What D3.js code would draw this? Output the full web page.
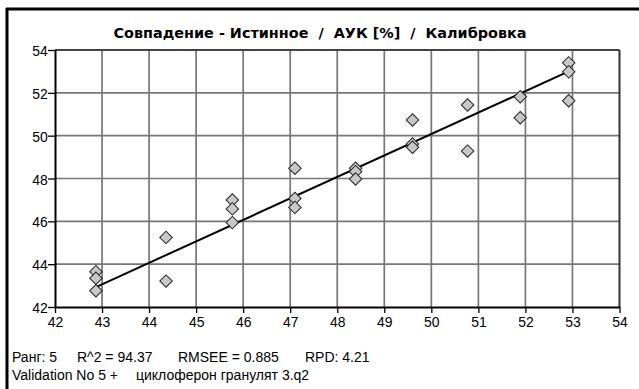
<!DOCTYPE html>
<html><head><meta charset="utf-8">
<script src="https://cdn.jsdelivr.net/npm/d3@7"></script>
<style>body{margin:0;background:#fff}svg{display:block}</style>
</head><body>
<script>
const xTicks = [42,43,44,45,46,47,48,49,50,51,52,53,54];
const yTicks = [42,44,46,48,50,52,54];
const trueVals = [42.87,42.87,42.87,44.36,44.36,45.77,45.77,45.77,47.10,47.10,47.10,48.39,48.39,48.39,49.60,49.60,49.60,50.77,50.77,51.89,51.89,52.92,52.92,52.92];
const predVals = [43.65,43.34,42.76,45.25,43.21,47.00,46.58,45.94,48.48,47.07,46.65,48.48,48.32,47.98,50.73,49.61,49.46,51.43,49.28,51.82,50.84,53.40,52.98,51.63];
const fitX = [42.87,52.92];
const fitY = [42.93,53.00];
const title = "Совпадение - Истинное  /  АУК [%]  /  Калибровка";
const statsLine = ["Ранг: 5","R^2 = 94.37","RMSEE = 0.885","RPD: 4.21"];
const infoLine = ["Validation No 5 +","циклоферон гранулят 3.q2"];

// layout
const statsX = [12,77,178,305];
const infoX = [12,136];

const W=639,H=389;
const svg=d3.select("body").append("svg").attr("width",W).attr("height",H);
const x=d3.scaleLinear().domain([42,54]).range([55,619.5]);
const y=d3.scaleLinear().domain([42,54]).range([307,50]);
const sans="'Liberation Sans', Arial, sans-serif";

// outer border (top and left)
svg.append("line").attr("x1",6).attr("x2",W).attr("y1",9).attr("y2",9).attr("stroke","#000").attr("stroke-width",3);
svg.append("line").attr("x1",7).attr("x2",7).attr("y1",8).attr("y2",H).attr("stroke","#000").attr("stroke-width",3);

svg.append("text").attr("x",320).attr("y",38).attr("text-anchor","middle")
  .attr("font-family","'DejaVu Sans', Verdana, sans-serif").attr("font-weight","bold").attr("font-size",14.4)
  .attr("fill","#000").style("white-space","pre").text(title);

// grid
const g=svg.append("g");
g.selectAll(".vx").data(xTicks.slice(1,-1)).join("line")
  .attr("x1",d=>x(d)).attr("x2",d=>x(d)).attr("y1",y(54)).attr("y2",y(42))
  .attr("stroke","#777").attr("stroke-width",1.7);
g.selectAll(".hy").data(yTicks.slice(1,-1)).join("line")
  .attr("x1",x(42)).attr("x2",x(54)).attr("y1",d=>y(d)).attr("y2",d=>y(d))
  .attr("stroke","#777").attr("stroke-width",1.7);
// frame top/right
svg.append("line").attr("x1",x(42)).attr("x2",x(54)).attr("y1",y(54)).attr("y2",y(54)).attr("stroke","#444").attr("stroke-width",2);
svg.append("line").attr("x1",x(54)).attr("x2",x(54)).attr("y1",y(54)).attr("y2",y(42)).attr("stroke","#333").attr("stroke-width",2);

// axes
const xAxis=svg.append("g").attr("transform",`translate(0,${y(42)})`)
  .call(d3.axisBottom(x).tickValues(xTicks).tickSize(6).tickSizeOuter(0).tickPadding(3).tickFormat(d3.format("d")));
const yAxis=svg.append("g").attr("transform",`translate(${x(42)},0)`)
  .call(d3.axisLeft(y).tickValues(yTicks).tickSize(7).tickSizeOuter(0).tickPadding(1).tickFormat(d3.format("d")));
[xAxis,yAxis].forEach(a=>{
  a.select(".domain").attr("stroke","#000").attr("stroke-width",2);
  a.selectAll(".tick line").attr("stroke","#000").attr("stroke-width",1.3);
  a.selectAll("text").attr("font-family",sans).attr("font-size",15.5).attr("fill","#000")
   .attr("transform","scale(0.9,1)");
});
yAxis.selectAll("text").attr("dy","0.36em");

// fit line
svg.append("line").attr("x1",x(fitX[0])).attr("y1",y(fitY[0])).attr("x2",x(fitX[1])).attr("y2",y(fitY[1]))
  .attr("stroke","#000").attr("stroke-width",2);

// markers
const pts=trueVals.map((v,i)=>[v,predVals[i]]);
svg.selectAll(".pt").data(pts).join("path")
  .attr("d",d3.symbol(d3.symbolSquare, 78))
  .attr("transform",d=>`translate(${x(d[0])},${y(d[1])}) rotate(45)`)
  .attr("fill","#c8c8c8").attr("stroke","#222").attr("stroke-width",1);

// bottom text
svg.selectAll(".s1").data(statsLine).join("text").attr("x",(d,i)=>statsX[i]).attr("y",362)
  .attr("font-family",sans).attr("font-size",14).attr("fill","#000").text(d=>d);
svg.selectAll(".s2").data(infoLine).join("text").attr("x",(d,i)=>infoX[i]).attr("y",380)
  .attr("font-family",sans).attr("font-size",14).attr("fill","#000").text(d=>d);
</script>
</body></html>
